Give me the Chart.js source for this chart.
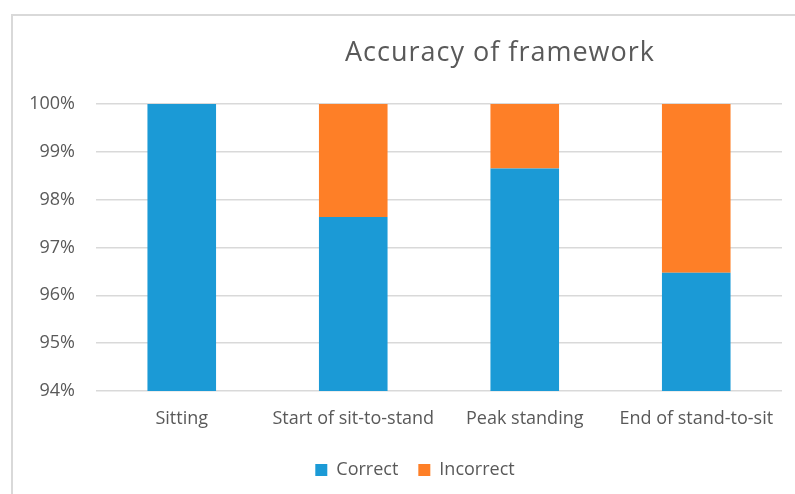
<!DOCTYPE html>
<html>
<head>
<meta charset="utf-8">
<script src="https://cdn.jsdelivr.net/npm/chart.js@4.4.0/dist/chart.umd.min.js"></script>
<style>
  html, body { margin: 0; padding: 0; background: #ffffff; }
  #wrap { position: relative; width: 795px; height: 494px; }
</style>
</head>
<body>
<div id="wrap"><canvas id="accChart"></canvas></div>
<script>
// Data
const categories = ['Sitting', 'Start of sit-to-stand', 'Peak standing', 'End of stand-to-sit'];
const correctValues = [100, 97.64, 98.65, 96.47];
const incorrectValues = [0, 2.36, 1.35, 3.53];
const tickValues = [94, 95, 96, 97, 98, 99, 100];
const chartTitle = 'Accuracy of framework';

const textGrey = '#595959';
const fontFamily = '"Open Sans", "Noto Sans", sans-serif';

// Outer frame (only top and left edges are visible in the crop) + title
const framePlugin = {
    id: 'framePlugin',
    beforeDraw: function(chart) {
        const ctx = chart.ctx;
        ctx.save();
        ctx.fillStyle = '#ffffff';
        ctx.fillRect(0, 0, chart.width, chart.height);
        ctx.strokeStyle = '#d9d9d9';
        ctx.lineWidth = 2;
        ctx.beginPath();
        ctx.moveTo(12, chart.height);
        ctx.lineTo(12, 15);
        ctx.lineTo(chart.width, 15);
        ctx.stroke();
        ctx.restore();
    },
    afterLayout: function(chart) {
        // legend sits a little right of the canvas centre in the reference
        chart.legend.left += 24;
        chart.legend.right += 24;
    },
    afterDraw: function(chart) {
        const ctx = chart.ctx;
        ctx.save();
        ctx.fillStyle = textGrey;
        ctx.font = '27px ' + fontFamily;
        ctx.letterSpacing = '1px';
        ctx.textAlign = 'center';
        ctx.textBaseline = 'alphabetic';
        ctx.fillText(chartTitle, 500, 61);
        ctx.restore();
    }
};

new Chart(document.getElementById('accChart'), {
    type: 'bar',
    data: {
        labels: categories,
        datasets: [{
            label: 'Correct',
            data: correctValues,
            backgroundColor: '#1b9ad6',
            borderWidth: 0,
            barPercentage: 0.4,
            categoryPercentage: 1.0
        }, {
            label: 'Incorrect',
            data: incorrectValues,
            backgroundColor: '#fe7f27',
            borderWidth: 0,
            barPercentage: 0.4,
            categoryPercentage: 1.0
        }]
    },
    options: {
        responsive: true,
        maintainAspectRatio: false,
        animation: false,
        layout: {
            padding: { left: 0, right: 13, top: 104, bottom: 5 }
        },
        scales: {
            x: {
                stacked: true,
                grid: { display: false, drawTicks: false },
                border: { display: false },
                afterFit: function(scale) { scale.height = 50; },
                ticks: {
                    color: textGrey,
                    font: { family: fontFamily, size: 18 },
                    padding: 17,
                    maxRotation: 0,
                    autoSkip: false
                }
            },
            y: {
                stacked: true,
                min: 94,
                max: 100,
                afterFit: function(scale) { scale.width = 96; },
                afterBuildTicks: function(scale) {
                    scale.ticks = tickValues.map(function(v) { return { value: v }; });
                },
                grid: { color: '#d9d9d9', lineWidth: 1.5, drawTicks: false },
                border: { display: false },
                ticks: {
                    color: textGrey,
                    font: { family: fontFamily, size: 18 },
                    padding: 21,
                    callback: function(v) { return v + '%'; }
                }
            }
        },
        plugins: {
            legend: {
                position: 'bottom',
                labels: {
                    color: textGrey,
                    font: { family: fontFamily, size: 18 },
                    boxWidth: 12,
                    boxHeight: 12,
                    padding: 20
                }
            },
            tooltip: { enabled: false }
        }
    },
    plugins: [framePlugin]
});
</script>
</body>
</html>
